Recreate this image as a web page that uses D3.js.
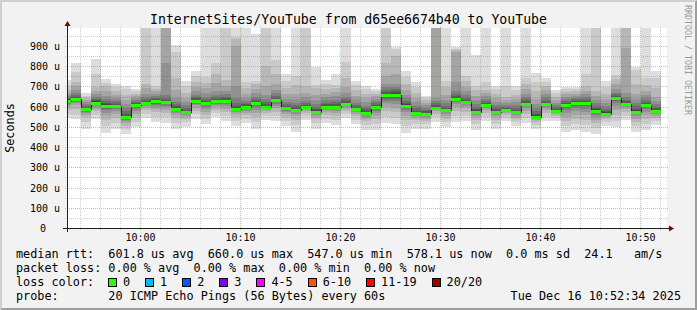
<!DOCTYPE html>
<html>
<head>
<meta charset="utf-8">
<script src="https://cdn.jsdelivr.net/npm/d3@7/dist/d3.min.js"></script>
<style>
html, body { margin: 0; padding: 0; background: #f2f2f2; }
svg text { font-family: "DejaVu Sans Mono", monospace; white-space: pre; }
</style>
</head>
<body>
<svg id="chart" width="697" height="310"></svg>
<script>
/** smokeping graph: one row of 20 sorted pings (microseconds) per minute */
var medians = [628, 640, 587, 620, 605, 604, 547, 607, 617, 626,
               623, 590, 574, 630, 617, 626, 630, 590, 600, 617,
               600, 632, 592, 584, 597, 576, 600, 600, 615, 587,
               569, 598, 657, 660, 605, 568, 566, 595, 582, 639,
               622, 576, 609, 576, 582, 573, 615, 551, 614, 579,
               609, 620, 619, 581, 566, 645, 615, 576, 609, 578];

var pings = [
    [543, 565, 585, 598, 607, 614, 619, 622, 625, 627, 629, 633, 638, 645, 652, 660, 668, 683, 705, 734],
    [538, 560, 590, 606, 617, 625, 631, 635, 638, 640, 641, 645, 650, 658, 668, 683, 700, 724, 770, 818],
    [490, 525, 548, 560, 568, 575, 580, 583, 585, 587, 588, 592, 597, 604, 612, 622, 633, 645, 655, 670],
    [538, 560, 578, 590, 600, 607, 612, 615, 618, 620, 622, 626, 632, 640, 650, 662, 678, 695, 760, 835],
    [469, 505, 535, 555, 570, 582, 590, 596, 601, 604, 606, 611, 618, 628, 640, 655, 675, 700, 716, 736],
    [490, 520, 545, 565, 578, 588, 595, 599, 602, 604, 605, 609, 614, 622, 632, 645, 660, 678, 695, 711],
    [465, 488, 505, 518, 528, 536, 541, 544, 546, 547, 550, 556, 565, 578, 595, 615, 635, 660, 685, 704],
    [497, 525, 548, 565, 578, 588, 596, 601, 604, 606, 608, 612, 617, 624, 632, 641, 652, 664, 675, 686],
    [543, 565, 582, 593, 601, 607, 611, 614, 616, 617, 618, 622, 628, 636, 648, 665, 690, 710, 1080, 1200],
    [523, 550, 572, 587, 599, 608, 615, 620, 623, 625, 627, 631, 637, 645, 655, 665, 675, 688, 703, 1150],
    [518, 548, 570, 585, 596, 604, 611, 616, 620, 622, 624, 628, 635, 645, 660, 815, 1050, 1100, 1150, 1250],
    [492, 520, 543, 558, 570, 578, 584, 587, 589, 590, 591, 596, 603, 612, 625, 645, 680, 740, 868, 906],
    [499, 522, 538, 550, 559, 565, 569, 571, 573, 574, 575, 579, 585, 594, 606, 622, 645, 670, 700, 727],
    [540, 562, 580, 595, 606, 615, 621, 625, 628, 630, 631, 635, 641, 649, 660, 675, 695, 720, 750, 774],
    [515, 540, 560, 576, 590, 600, 607, 612, 615, 617, 618, 622, 628, 637, 650, 668, 690, 716, 745, 1020],
    [551, 568, 584, 597, 607, 614, 619, 622, 624, 626, 627, 631, 637, 646, 658, 675, 715, 760, 815, 1100],
    [527, 552, 573, 590, 603, 613, 620, 625, 628, 630, 631, 635, 641, 650, 662, 678, 700, 730, 1050, 1180],
    [506, 530, 550, 563, 573, 580, 585, 587, 589, 590, 591, 596, 605, 620, 645, 700, 900, 935, 945, 1100],
    [518, 540, 558, 571, 581, 588, 593, 596, 598, 600, 601, 605, 611, 619, 630, 645, 665, 690, 720, 1020],
    [492, 525, 550, 570, 585, 597, 606, 611, 615, 617, 618, 622, 628, 637, 650, 667, 688, 710, 726, 957],
    [535, 553, 567, 578, 587, 593, 597, 599, 600, 600, 601, 605, 612, 622, 637, 660, 700, 800, 1050, 1150],
    [527, 553, 575, 592, 605, 615, 622, 627, 630, 632, 633, 637, 644, 653, 666, 683, 710, 760, 830, 1080],
    [502, 528, 548, 562, 572, 580, 585, 589, 591, 592, 593, 597, 603, 612, 624, 640, 662, 690, 725, 764],
    [477, 510, 535, 552, 565, 573, 578, 581, 583, 584, 585, 590, 597, 607, 620, 638, 665, 705, 750, 1030],
    [535, 553, 567, 578, 586, 591, 594, 596, 597, 597, 598, 602, 608, 617, 630, 648, 670, 700, 1040, 1120],
    [492, 518, 537, 550, 560, 567, 571, 574, 575, 576, 577, 582, 589, 600, 615, 635, 660, 690, 708, 798],
    [518, 540, 558, 572, 582, 589, 594, 597, 599, 600, 601, 605, 611, 620, 632, 647, 665, 688, 710, 731],
    [510, 535, 555, 570, 581, 589, 594, 597, 599, 600, 601, 605, 612, 622, 635, 652, 672, 692, 708, 764],
    [543, 562, 577, 589, 598, 605, 610, 613, 614, 615, 616, 620, 627, 636, 650, 668, 695, 740, 820, 1100],
    [515, 536, 552, 564, 573, 579, 583, 585, 586, 587, 588, 592, 599, 608, 620, 636, 655, 680, 705, 728],
    [485, 510, 528, 541, 551, 558, 563, 566, 568, 569, 570, 575, 582, 592, 605, 622, 642, 665, 685, 700],
    [485, 515, 538, 556, 569, 579, 587, 592, 596, 598, 599, 603, 609, 617, 627, 639, 652, 665, 677, 686],
    [518, 550, 578, 600, 617, 630, 640, 648, 654, 657, 659, 664, 671, 681, 695, 714, 750, 818, 1060, 1150],
    [513, 545, 572, 594, 612, 627, 640, 650, 656, 659, 661, 667, 675, 686, 698, 714, 760, 850, 885, 897],
    [469, 505, 533, 555, 572, 585, 594, 600, 603, 605, 606, 611, 618, 628, 641, 658, 680, 710, 745, 777],
    [490, 515, 533, 545, 554, 560, 564, 566, 567, 568, 569, 574, 581, 591, 604, 621, 643, 668, 695, 720],
    [492, 515, 530, 541, 549, 555, 560, 563, 565, 566, 567, 571, 577, 585, 595, 606, 618, 631, 643, 655],
    [526, 548, 565, 578, 587, 592, 594, 595, 595, 595, 596, 600, 608, 618, 630, 645, 1030, 1080, 1130, 1200],
    [497, 522, 541, 555, 565, 572, 577, 580, 581, 582, 583, 588, 595, 605, 618, 635, 660, 695, 726, 1050],
    [526, 555, 580, 600, 614, 624, 631, 635, 637, 639, 640, 645, 652, 662, 677, 720, 870, 880, 886, 893],
    [527, 553, 575, 592, 604, 612, 617, 620, 621, 622, 623, 627, 634, 644, 657, 675, 698, 725, 752, 1060],
    [485, 512, 533, 548, 559, 567, 572, 574, 575, 576, 577, 582, 589, 600, 614, 632, 655, 680, 702, 856],
    [527, 550, 568, 582, 592, 599, 604, 607, 608, 609, 610, 614, 620, 629, 640, 653, 668, 684, 720, 1040],
    [490, 515, 534, 548, 558, 566, 571, 574, 575, 576, 577, 581, 588, 597, 609, 624, 642, 663, 685, 703],
    [527, 545, 558, 567, 573, 577, 579, 581, 582, 582, 583, 586, 591, 598, 607, 619, 633, 650, 700, 1080],
    [502, 522, 537, 549, 557, 563, 567, 570, 572, 573, 574, 578, 585, 594, 606, 621, 640, 660, 682, 700],
    [518, 543, 563, 579, 592, 601, 607, 611, 613, 615, 616, 620, 627, 637, 650, 665, 685, 710, 740, 1050],
    [492, 510, 522, 532, 539, 544, 547, 549, 550, 551, 552, 557, 565, 577, 593, 613, 640, 675, 720, 767],
    [527, 550, 568, 583, 595, 603, 608, 611, 613, 614, 615, 619, 625, 634, 646, 661, 680, 702, 722, 741],
    [527, 543, 554, 562, 568, 572, 575, 577, 578, 579, 580, 584, 590, 598, 608, 620, 635, 650, 667, 683],
    [474, 505, 530, 551, 568, 582, 592, 600, 605, 608, 610, 614, 620, 628, 638, 649, 661, 673, 685, 695],
    [485, 515, 540, 561, 578, 592, 603, 610, 616, 619, 621, 625, 630, 637, 645, 655, 665, 676, 686, 695],
    [477, 508, 535, 557, 575, 590, 601, 609, 615, 618, 620, 624, 630, 638, 649, 662, 678, 700, 760, 1060],
    [464, 495, 518, 535, 549, 560, 568, 574, 578, 580, 582, 587, 594, 604, 617, 633, 652, 675, 1030, 1100],
    [506, 525, 538, 548, 555, 560, 563, 565, 566, 566, 567, 572, 579, 589, 602, 618, 640, 665, 698, 728],
    [497, 530, 558, 582, 601, 616, 628, 636, 641, 644, 646, 650, 655, 661, 667, 685, 710, 735, 757, 1050],
    [535, 556, 573, 586, 596, 603, 608, 611, 613, 615, 616, 620, 626, 635, 648, 668, 889, 1040, 1100, 1180],
    [477, 505, 526, 541, 553, 562, 568, 572, 575, 576, 577, 582, 590, 602, 617, 637, 665, 710, 780, 795],
    [485, 515, 540, 560, 576, 588, 597, 603, 607, 609, 610, 614, 620, 629, 641, 656, 676, 705, 741, 1040],
    [510, 530, 545, 556, 565, 571, 575, 577, 578, 578, 580, 584, 591, 600, 612, 628, 650, 690, 740, 774]
];

var yTicks = [0, 100, 200, 300, 400, 500, 600, 700, 800, 900];
var lossLabels = ['0', '1', '2', '3', '4-5', '6-10', '11-19', '20/20'];
var lossColors = ['#26ff00', '#00b8ff', '#0059ff', '#7e00ff', '#ff00ff', '#ff5500', '#ff0000', '#a00000'];
var smokeColors = ['#dddddd', '#cacaca', '#b7b7b7', '#a4a4a4', '#919191', '#7e7e7e', '#6b6b6b', '#585858', '#454545', '#323232'];

var title = 'InternetSites/YouTube from d65ee6674b40 to YouTube';
var legendLines = [
    'median rtt:  601.8 us avg  660.0 us max  547.0 us min  578.1 us now  0.0 ms sd  24.1   am/s',
    'packet loss: 0.00 % avg  0.00 % max  0.00 % min  0.00 % now'
];
var probeText = 'probe:       20 ICMP Echo Pings (56 Bytes) every 60s';
var stampText = 'Tue Dec 16 10:52:34 2025';

var W = 697, H = 310;
var xo = 67, yo = 228, xsize = 600, ysize = 200;
var cw = 7.1;

var svg = d3.select('#chart');
var t0 = new Date(2025, 11, 16, 9, 52, 40);
var t1 = new Date(+t0 + 3600 * 1000);
var firstMinute = new Date(2025, 11, 16, 9, 52, 0);

var x = d3.scaleTime().domain([t0, t1]).range([xo, xo + xsize]);
var y = d3.scaleLinear().domain([0, 989]).range([yo, yo - ysize]);

// background + shading frame
svg.append('rect').attr('width', W).attr('height', H).attr('fill', '#f2f2f2');
svg.append('path').attr('d', 'M0,0H' + W + 'L' + (W - 2) + ',2H2V' + (H - 2) + 'L0,' + H + 'Z').attr('fill', '#cfcfcf');
svg.append('path').attr('d', 'M' + W + ',0V' + H + 'H0L2,' + (H - 2) + 'H' + (W - 2) + 'V2Z').attr('fill', '#9e9e9e');
svg.append('rect').attr('x', xo).attr('y', yo - ysize).attr('width', xsize).attr('height', ysize).attr('fill', '#ffffff');

svg.append('clipPath').attr('id', 'plot')
    .append('rect').attr('x', xo).attr('y', yo - ysize).attr('width', xsize).attr('height', ysize);

var plot = svg.append('g').attr('clip-path', 'url(#plot)').attr('shape-rendering', 'crispEdges');

function colX( i ) {
    var start = d3.timeMinute.offset(firstMinute, i);
    var end = d3.timeMinute.offset(firstMinute, i + 1);
    return [ Math.max(xo, Math.ceil(x(start))), Math.ceil(x(end)) ];
}

// smoke: nested bands p1..p20, p2..p19, ...
pings.forEach(function( row, i ) {
    var cx = colX(i);
    for (var b = 0; b < 10; b++) {
        var lo = row[b], hi = row[19 - b];
        var yt = Math.round(y(hi)), yb = Math.round(y(lo));
        plot.append('rect')
            .attr('x', cx[0]).attr('width', cx[1] - cx[0])
            .attr('y', yt).attr('height', Math.max(0, yb - yt))
            .attr('fill', smokeColors[b]);
    }
});

// grid
var grid = svg.append('g').attr('shape-rendering', 'crispEdges').attr('stroke-dasharray', '1,1');
var minorY = d3.range(50, 989, 100);
minorY.forEach(function( v ) {
    var yy = Math.round(y(v)) + 0.5;
    grid.append('line').attr('x1', xo - 2).attr('x2', xo + xsize + 2).attr('y1', yy).attr('y2', yy)
        .attr('stroke', 'rgba(94,94,94,0.3)');
});
var minorX = d3.timeMinute.every(2).range(d3.timeMinute.ceil(t0), t1).filter(function( d ) { return d.getMinutes() % 10 !== 0; });
minorX.forEach(function( d ) {
    var xx = Math.floor(x(d)) + 0.5;
    grid.append('line').attr('x1', xx).attr('x2', xx).attr('y1', yo + 2).attr('y2', yo - ysize - 2)
        .attr('stroke', 'rgba(94,94,94,0.3)');
});
yTicks.slice(1).forEach(function( v ) {
    var yy = Math.round(y(v)) + 0.5;
    grid.append('line').attr('x1', xo - 2).attr('x2', xo + xsize + 2).attr('y1', yy).attr('y2', yy)
        .attr('stroke', 'rgba(240,70,70,0.45)');
});
var majorX = d3.timeMinute.every(10).range(d3.timeMinute.ceil(t0), t1);
majorX.forEach(function( d ) {
    var xx = Math.floor(x(d)) + 0.5;
    grid.append('line').attr('x1', xx).attr('x2', xx).attr('y1', yo + 2).attr('y2', yo - ysize - 2)
        .attr('stroke', 'rgba(240,70,70,0.45)');
});

// median: dark step line, loss coloured band on top
var medPts = medians.map(function( m, i ) { return [ colX(i)[0], Math.round(y(m)) + 0.5 ]; });
medPts.push([ colX(medians.length - 1)[1], medPts[medPts.length - 1][1] ]);
plot.append('path')
    .attr('d', d3.line().curve(d3.curveStepAfter)(medPts))
    .attr('fill', 'none').attr('stroke', '#202020').attr('stroke-width', 1);
medians.forEach(function( m, i ) {
    var cx = colX(i);
    plot.append('rect')
        .attr('x', cx[0]).attr('width', cx[1] - cx[0])
        .attr('y', Math.round(y(m)) - 1).attr('height', 3)
        .attr('fill', lossColors[0]);
});

// axes
var axes = svg.append('g').attr('shape-rendering', 'crispEdges');
axes.append('line').attr('x1', xo - 4).attr('x2', xo + xsize + 4).attr('y1', yo + 0.5).attr('y2', yo + 0.5).attr('stroke', '#212121');
axes.append('line').attr('x1', xo + 0.5).attr('x2', xo + 0.5).attr('y1', yo + 4).attr('y2', yo - ysize - 4).attr('stroke', '#212121');
svg.append('path').attr('fill', '#800000')
    .attr('d', 'M' + (xo + xsize + 2) + ',' + (yo - 2.5) + 'L' + (xo + xsize + 2) + ',' + (yo + 3.5) + 'L' + (xo + xsize + 7) + ',' + (yo + 0.5) + 'Z');
svg.append('path').attr('fill', '#800000')
    .attr('d', 'M' + (xo - 2.5) + ',' + (yo - ysize - 2) + 'L' + (xo + 3.5) + ',' + (yo - ysize - 2) + 'L' + (xo + 0.5) + ',' + (yo - ysize - 7) + 'Z');

// tick labels
var fmt = d3.timeFormat('%H:%M');
majorX.forEach(function( d ) {
    svg.append('text').attr('x', Math.floor(x(d)) + 0.5).attr('y', yo + 13)
        .attr('text-anchor', 'middle').attr('font-size', 10).attr('fill', '#000').text(fmt(d));
});
yTicks.forEach(function( v ) {
    svg.append('text').attr('x', v === 0 ? 46 : 60).attr('y', Math.round(y(v)) + 4)
        .attr('text-anchor', 'end').attr('font-size', 10).attr('fill', '#000')
        .text(v === 0 ? '0' : v + ' u');
});

// titles
svg.append('text').attr('x', W / 2).attr('y', 24).attr('text-anchor', 'middle')
    .attr('font-size', 13.2).attr('fill', '#000').text(title);
svg.append('text').attr('transform', 'translate(14,' + (yo - ysize / 2) + ') rotate(-90)')
    .attr('text-anchor', 'middle').attr('font-size', 11.8).attr('fill', '#000').text('Seconds');
svg.append('text').attr('transform', 'translate(685,5) rotate(90)')
    .attr('text-anchor', 'start').attr('font-size', 8.3).attr('fill', '#999').text('RRDTOOL / TOBI OETIKER');

// legend
var leg = svg.append('g').attr('font-size', 11.8).attr('fill', '#000');
legendLines.forEach(function( s, i ) {
    leg.append('text').attr('x', 16).attr('y', 258 + 14 * i).text(s);
});
leg.append('text').attr('x', 16).attr('y', 286).text('loss color:');
var lx = 108;
lossLabels.forEach(function( lab, i ) {
    svg.append('rect').attr('x', lx + 0.5).attr('y', 278.5).attr('width', 8).attr('height', 8)
        .attr('fill', lossColors[i]).attr('stroke', '#000').attr('shape-rendering', 'crispEdges');
    leg.append('text').attr('x', lx + 15).attr('y', 286).text(lab);
    lx = lx + 15 + lab.length * cw + 15;
});
leg.append('text').attr('x', 16).attr('y', 300).text(probeText);
leg.append('text').attr('x', 681).attr('y', 300).attr('text-anchor', 'end').text(stampText);
</script>
</body>
</html>
